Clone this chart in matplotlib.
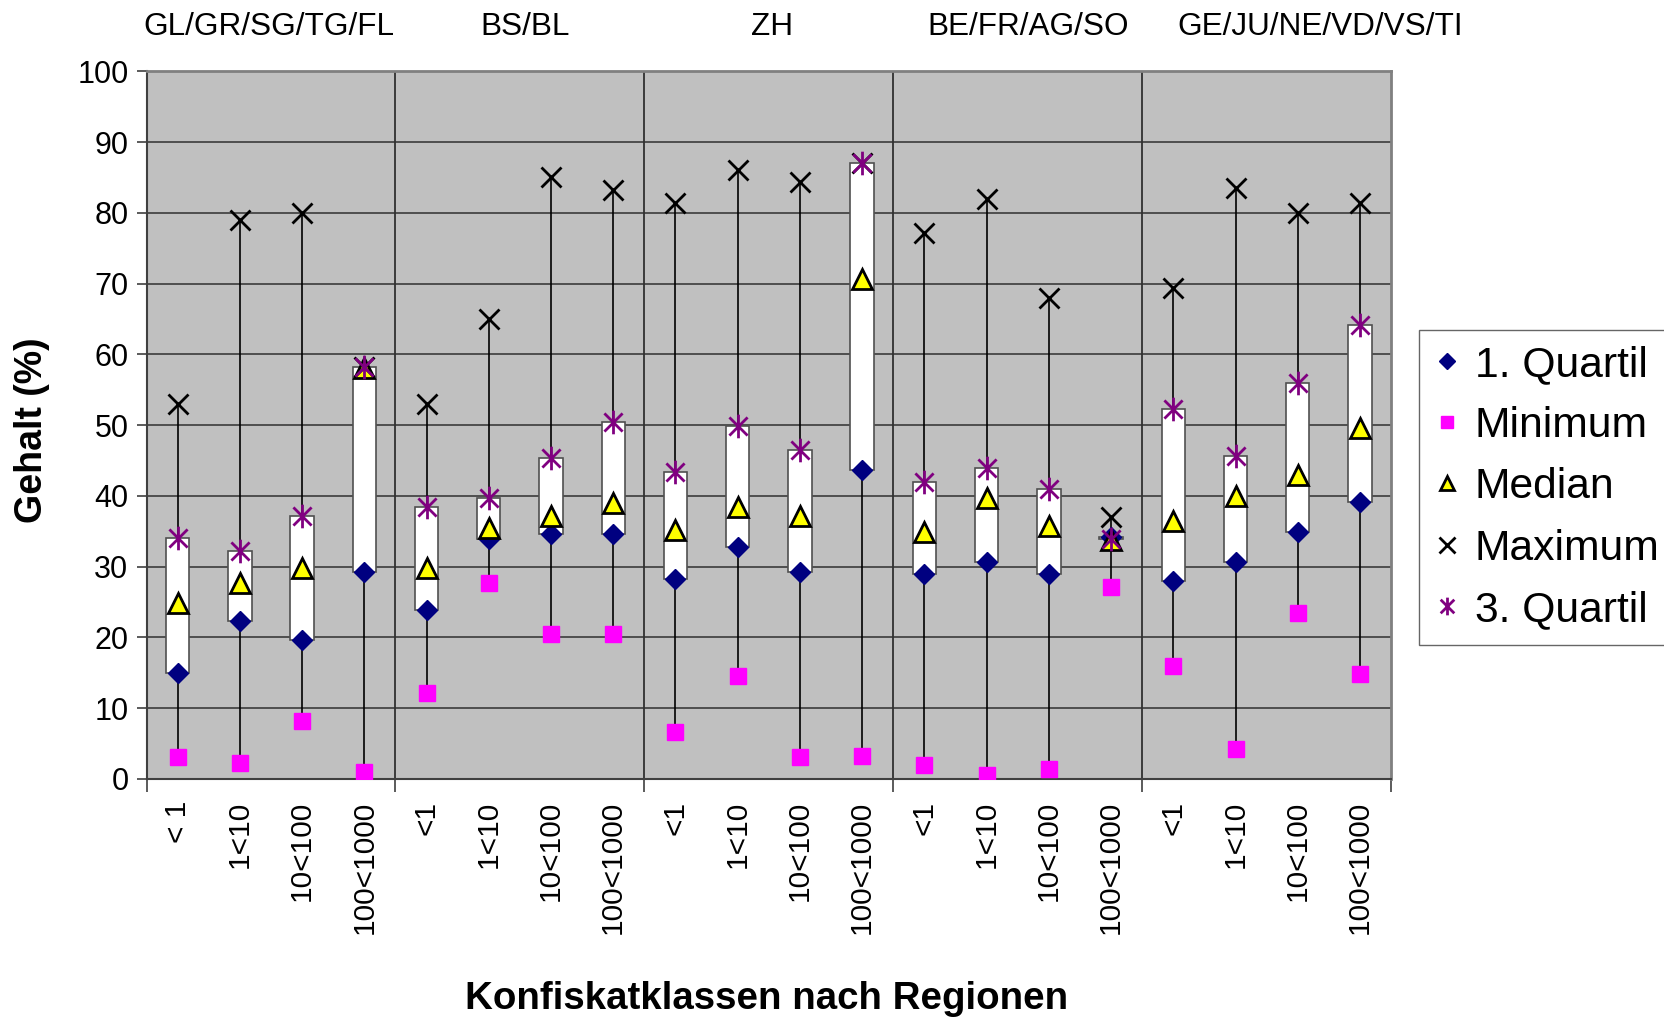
import matplotlib
matplotlib.use("Agg")
import matplotlib.pyplot as plt
from matplotlib.path import Path

plt.rcParams['font.family'] = ['Liberation Sans', 'DejaVu Sans']

# regions (groups of four confiscation classes)
regions = ['GL/GR/SG/TG/FL', 'BS/BL', 'ZH', 'BE/FR/AG/SO', 'GE/JU/NE/VD/VS/TI']
classes = ['< 1', '1<10', '10<100', '100<1000',
           '<1', '1<10', '10<100', '100<1000',
           '<1', '1<10', '10<100', '100<1000',
           '<1', '1<10', '10<100', '100<1000',
           '<1', '1<10', '10<100', '100<1000']

# values in %
quartil1 = [15.0, 22.3, 19.6, 29.2,
            23.8, 33.9, 34.6, 34.6,
            28.3, 32.8, 29.2, 43.6,
            28.9, 30.6, 28.9, 34.2,
            28.0, 30.6, 34.9, 39.1]
minimum = [3.1, 2.2, 8.1, 0.9,
           12.1, 27.7, 20.5, 20.5,
           6.6, 14.5, 3.1, 3.2,
           2.0, 0.5, 1.4, 27.1,
           16.0, 4.2, 23.4, 14.8]
median = [24.9, 27.6, 29.8, 58.0,
          29.8, 35.5, 37.2, 39.0,
          35.2, 38.4, 37.2, 70.6,
          34.9, 39.7, 35.7, 33.7,
          36.4, 40.0, 43.0, 49.6]
maximum = [53.0, 79.0, 80.0, 58.2,
           53.0, 65.0, 85.0, 83.2,
           81.4, 86.0, 84.3, 87.0,
           77.1, 82.0, 68.0, 37.0,
           69.4, 83.5, 80.0, 81.4]
quartil3 = [34.0, 32.2, 37.2, 58.2,
            38.4, 39.7, 45.3, 50.4,
            43.3, 49.9, 46.5, 87.0,
            42.0, 43.9, 40.9, 33.9,
            52.2, 45.6, 55.9, 64.2]

x = [i + 0.5 for i in range(len(classes))]
box_h = [q3 - q1 for q1, q3 in zip(quartil1, quartil3)]

# where the region titles sit (x in class units, as placed in the original)
region_x = [1.96, 6.08, 10.05, 14.16, 18.86]

# excel style asterisk: an x with a vertical bar
star = Path([(-1, -1), (1, 1), (-1, 1), (1, -1), (0, -1.3), (0, 1.3)],
            [Path.MOVETO, Path.LINETO, Path.MOVETO, Path.LINETO, Path.MOVETO, Path.LINETO])

fig = plt.figure(figsize=(16.65, 10.18), dpi=100)
fig.set_facecolor('white')
ax = fig.add_axes([0.088, 0.235, 0.7475, 0.695])
ax.set_facecolor('#C0C0C0')

ax.vlines(x, minimum, maximum, colors='black', lw=1.2, zorder=2)
ax.bar(x, box_h, bottom=quartil1, width=0.375, color='white',
       edgecolor='#505050', lw=1.2, zorder=3)

ax.plot(x, quartil1, ls='none', marker='D', ms=10.5, color='#000080',
        mec='#000080', zorder=4, label='1. Quartil')
ax.plot(x, minimum, ls='none', marker='s', ms=12, color='#FF00FF',
        mec='#FF00FF', zorder=5, label='Minimum')
ax.plot(x, median, ls='none', marker='^', ms=14, color='#FFFF00',
        mec='black', mew=2, zorder=6, label='Median')
ax.plot(x, maximum, ls='none', marker='x', ms=15, color='black',
        mew=2, zorder=7, label='Maximum')
ax.plot(x, quartil3, ls='none', marker=star, ms=17, color='#800080',
        mew=2, zorder=8, label='3. Quartil')

ax.set_xlim(0, 20)
ax.set_ylim(0, 100)
ax.set_yticks(range(0, 101, 10))
ax.tick_params(axis='y', labelsize=22, length=7, width=1.2, color='#404040', pad=6)

# group boundaries as major ticks, classes as minor tick labels
ax.set_xticks([0, 4, 8, 12, 16, 20])
ax.set_xticklabels([])
ax.tick_params(axis='x', which='major', length=9, width=1.2, color='#404040')
ax.set_xticks(x, minor=True)
ax.set_xticklabels(classes, minor=True, rotation=90, fontsize=21.5)
ax.tick_params(axis='x', which='minor', length=0, pad=16)

for b in [4, 8, 12, 16]:
    ax.axvline(b, color='#303030', lw=1.3, zorder=1)
for v in range(10, 100, 10):
    ax.axhline(v, color='#303030', lw=1.1, zorder=1)

for s in ['top', 'right']:
    ax.spines[s].set_color('#808080')
    ax.spines[s].set_linewidth(2)
for s in ['left', 'bottom']:
    ax.spines[s].set_color('#404040')
    ax.spines[s].set_linewidth(1.5)

for xr, name in zip(region_x, regions):
    ax.text(xr, 1.063, name, transform=ax.get_xaxis_transform(),
            ha='center', va='center', fontsize=22.7)

fig.text(0.019, 0.577, 'Gehalt (%)', rotation=90, ha='center', va='center',
         fontsize=27, fontweight='bold')
fig.text(0.4605, 0.019, 'Konfiskatklassen nach Regionen', ha='center', va='center',
         fontsize=27.7, fontweight='bold')

fig.legend(loc='upper left', bbox_to_anchor=(0.8525, 0.676), fontsize=30.7,
           frameon=True, fancybox=False, edgecolor='#404040', markerscale=0.75,
           handlelength=0.6, handletextpad=0.35, labelspacing=0.5,
           borderpad=0.35, borderaxespad=0)

fig.savefig('out.png', dpi=100, facecolor='white')
